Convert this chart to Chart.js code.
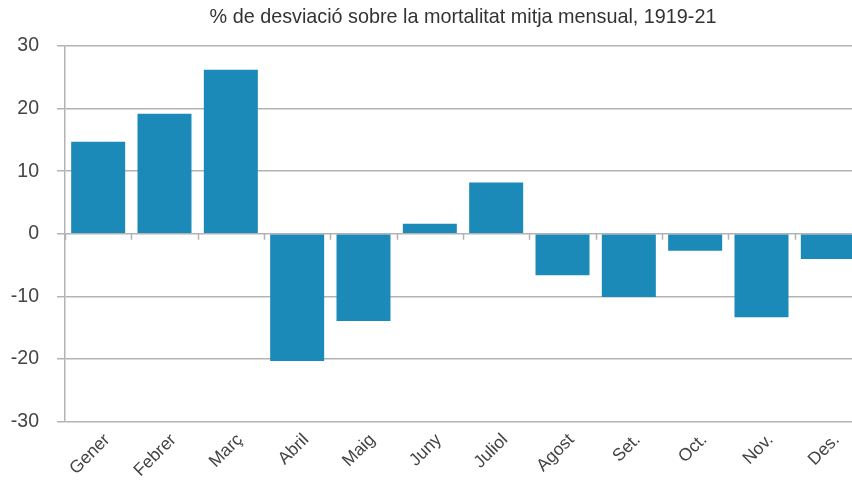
<!DOCTYPE html>
<html>
<head>
<meta charset="utf-8">
<script src="https://cdn.jsdelivr.net/npm/chart.js@4"></script>
<style>
  html, body { margin: 0; padding: 0; background: #fff; overflow: hidden; }
  #wrap { width: 861px; height: 481px; }
</style>
</head>
<body>
<div id="wrap"><canvas id="mortChart"></canvas></div>
<script>
const months = ['Gener', 'Febrer', 'Març', 'Abril', 'Maig', 'Juny', 'Juliol', 'Agost', 'Set.', 'Oct.', 'Nov.', 'Des.'];
const deviation = [14.7, 19.2, 26.2, -20.3, -13.9, 1.6, 8.2, -6.6, -10.1, -2.7, -13.3, -4.0];
const chartTitle = '% de desviació sobre la mortalitat mitja mensual, 1919-21';

const fontFamily = '"Liberation Sans", Arial, sans-serif';

// small tick marks hanging under the zero line, between categories
const zeroTicks = {
    id: 'zeroTicks',
    beforeDatasetsDraw(chart) {
        const x = chart.scales.x;
        const y = chart.scales.y;
        const ctx = chart.ctx;
        const y0 = y.getPixelForValue(0);
        const step = x.getPixelForValue(1) - x.getPixelForValue(0);
        ctx.save();
        ctx.strokeStyle = '#b3b3b3';
        ctx.lineWidth = 1.5;
        ctx.beginPath();
        for (let i = 0; i <= months.length; i++) {
            const px = Math.round(x.getPixelForValue(0) - step / 2 + i * step) + 0.5;
            ctx.moveTo(px, y0);
            ctx.lineTo(px, y0 + 6);
        }
        ctx.stroke();
        ctx.restore();
    },
};

// title centred over the plot area rather than the whole canvas
const plotTitle = {
    id: 'plotTitle',
    afterDraw(chart) {
        const area = chart.chartArea;
        const ctx = chart.ctx;
        ctx.save();
        ctx.font = '19.8px ' + fontFamily;
        ctx.fillStyle = '#333';
        ctx.textAlign = 'center';
        ctx.textBaseline = 'middle';
        ctx.fillText(chartTitle, (area.left + area.right) / 2, 18);
        ctx.restore();
    },
};

Chart.defaults.font.family = fontFamily;

const ctx = document.getElementById('mortChart').getContext('2d');
new Chart(ctx, {
    type: 'bar',
    data: {
        labels: months,
        datasets: [{
            data: deviation,
            backgroundColor: '#1b8ab8',
            borderWidth: 0,
            categoryPercentage: 0.814,
            barPercentage: 1.0,
        }],
    },
    options: {
        responsive: true,
        maintainAspectRatio: false,
        animation: false,
        layout: { padding: { top: 46, right: 0, left: 0, bottom: 0 } },
        plugins: {
            legend: { display: false },
            tooltip: { enabled: false },
            title: { display: false },
        },
        scales: {
            x: {
                grid: { display: false },
                border: { display: false },
                afterFit(scale) {
                    scale.paddingLeft = 0;
                    scale.paddingRight = 0;
                },
                ticks: {
                    color: '#444',
                    font: { size: 17.5 },
                    minRotation: 45,
                    maxRotation: 45,
                    padding: 0,
                    labelOffset: 9,
                },
            },
            y: {
                min: -30,
                max: 30,
                afterFit(scale) { scale.width = 65; },
                ticks: {
                    stepSize: 10,
                    color: '#444',
                    font: { size: 19.5 },
                    padding: 18,
                },
                grid: {
                    color: '#b3b3b3',
                    lineWidth: 1.5,
                    tickLength: 8,
                },
                border: { color: '#b3b3b3', width: 1.5 },
            },
        },
    },
    plugins: [zeroTicks, plotTitle],
});
</script>
</body>
</html>
